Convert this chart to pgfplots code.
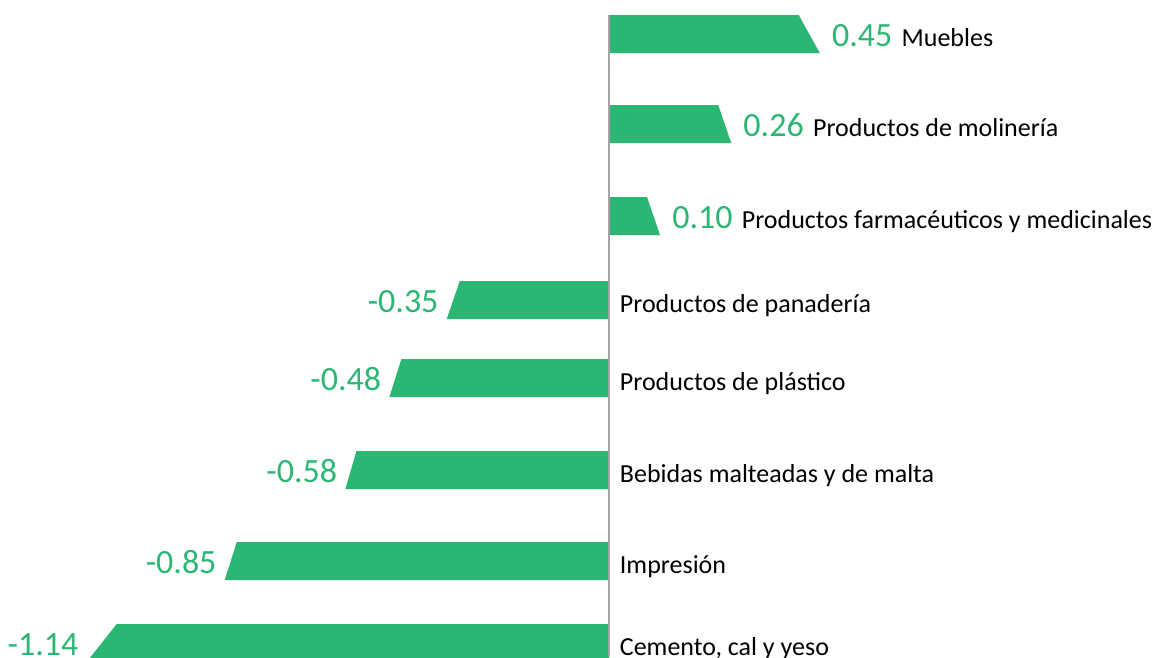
\documentclass[border=0pt]{standalone}
\usepackage{pgfplots}
\usepackage{pgfplotstable}
\pgfplotsset{compat=1.18}
\usepackage{fontspec}
\setmainfont{Carlito}
\definecolor{barg}{RGB}{43,182,115}
\definecolor{axisg}{RGB}{165,165,165}
\newcommand{\valfont}{\fontsize{25.5pt}{30pt}\selectfont}
\newcommand{\catfont}{\fontsize{19.5pt}{23pt}\selectfont}

\pgfplotstableread[col sep=semicolon]{
pos;v;slant;name
34;0.45;21;Muebles
124;0.26;13;Productos de molinería
216;0.10;13;Productos farmacéuticos y medicinales
300;-0.35;13;Productos de panadería
378;-0.48;12;Productos de plástico
470;-0.58;11;Bebidas malteadas y de malta
561;-0.85;12;Impresión
643;-1.14;30;Cemento, cal y yeso
}\data

\pgfplotstableread{
a b sy
0 0 -1
1 -1 -1
1 1 1
0 0 1
}\barshape

\begin{document}
\begin{tikzpicture}
\begin{axis}[
  width=872.25pt, height=492.75pt, scale only axis,
  xmin=-609, xmax=554, ymin=0, ymax=657, y dir=reverse,
  hide axis, clip=false,
]
\pgfplotsinvokeforeach{0,...,7}{
  \pgfplotstablegetelem{#1}{v}\of\data \let\Val=\pgfplotsretval
  \pgfplotstablegetelem{#1}{pos}\of\data \let\Pos=\pgfplotsretval
  \pgfplotstablegetelem{#1}{slant}\of\data \let\Sl=\pgfplotsretval
  \addplot[fill=barg, draw=none] table[
     x expr={\thisrow{a}*(\Val)*445 + \thisrow{b}*((\Val)/abs(\Val))*\Sl/2},
     y expr={\Pos + \thisrow{sy}*19}] {\barshape};
}
\draw[axisg, line width=1.5pt] (axis cs:0,15) -- (axis cs:0,657);
% positive: value + category
\addplot[draw=none, mark=none, restrict expr to domain={\thisrow{v}}{0:10},
  point meta=explicit symbolic,
  visualization depends on={\thisrow{v}\as\vv},
  nodes near coords={\textcolor{barg}{\valfont\pgfmathprintnumber[fixed,precision=2,zerofill,assume math mode=true]{\vv}}\hspace{7pt}{\catfont\pgfplotspointmeta}},
  nodes near coords style={anchor=base west, inner sep=0pt, xshift=9pt, yshift=-9pt, text=black}]
  table[x expr={\thisrow{v}*445+\thisrow{slant}/2}, y=pos, meta=name]{\data};
% negative: value
\addplot[draw=none, mark=none, restrict expr to domain={\thisrow{v}}{-10:0},
  point meta=\thisrow{v},
  nodes near coords={\valfont\pgfmathprintnumber[fixed,precision=2,zerofill,assume math mode=true]{\pgfplotspointmeta}},
  nodes near coords style={anchor=base east, inner sep=0pt, xshift=-6pt, yshift=-9pt, text=barg}]
  table[x expr={\thisrow{v}*445-\thisrow{slant}/2}, y=pos]{\data};
% negative: category
\addplot[draw=none, mark=none, restrict expr to domain={\thisrow{v}}{-10:0},
  point meta=explicit symbolic,
  nodes near coords={\catfont\pgfplotspointmeta},
  nodes near coords style={anchor=base west, inner sep=0pt, xshift=8pt, yshift=-9pt, text=black}]
  table[x expr=0, y=pos, meta=name]{\data};
\end{axis}
\pgfresetboundingbox
\path (current axis.south west) rectangle (current axis.north east);
\end{tikzpicture}
\end{document}
